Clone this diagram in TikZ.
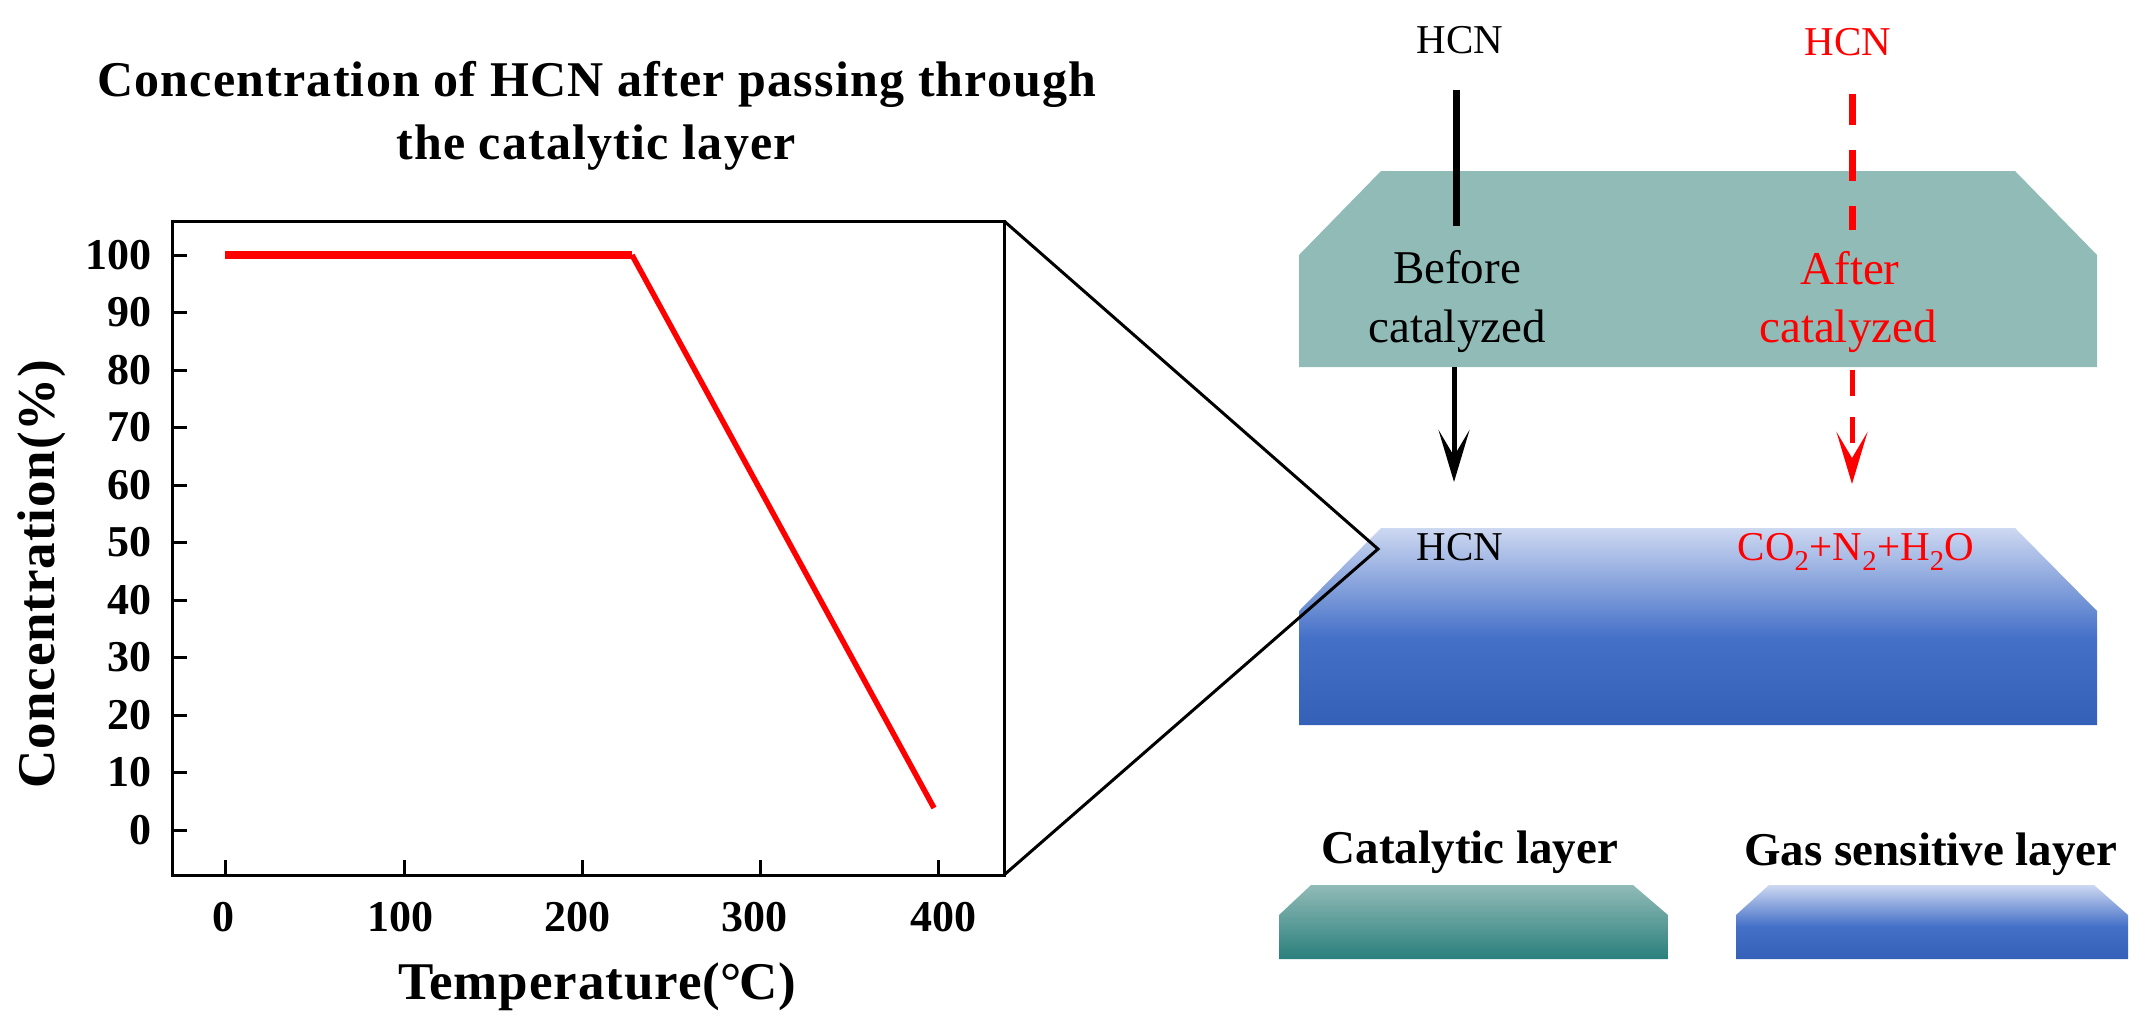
\documentclass[tikz,border=0pt]{standalone}
\usepackage{fontspec}
\setmainfont{Liberation Serif}
\usetikzlibrary{arrows.meta,positioning}
\newcommand{\fsize}[1]{\fontsize{#1}{#1}\selectfont}
\definecolor{plotred}{HTML}{FF0000}
\definecolor{tealtop}{HTML}{91BBB7}
\definecolor{tealbot}{HTML}{2A7F7C}
\definecolor{bluetop}{HTML}{CDD8F1}
\definecolor{bluemid}{HTML}{4470C8}
\definecolor{bluebot}{HTML}{3560B7}
\pgfdeclareverticalshading{blueband}{100bp}{color(0bp)=(bluebot); color(25bp)=(bluebot); color(47bp)=(bluemid); color(75bp)=(bluetop); color(100bp)=(bluetop)}
\pgfdeclareverticalshading{tealband}{100bp}{color(0bp)=(tealbot); color(25bp)=(tealbot); color(75bp)=(tealtop); color(100bp)=(tealtop)}
\tikzset{
  headtext/.style={font=\fsize{50}\bfseries\addfontfeature{LetterSpace=2.4},anchor=base,inner sep=0pt},
  axistext/.style={font=\fsize{53}\bfseries\addfontfeature{LetterSpace=1.7},anchor=base,inner sep=0pt},
  legtext/.style={font=\fsize{47}\bfseries,anchor=base,inner sep=0pt},
  ticktext/.style={font=\fsize{44}\bfseries,inner sep=0pt},
  flowtext/.style={font=\fsize{41},anchor=base,inner sep=0pt},
  bigtext/.style={font=\fsize{47},anchor=base,inner sep=0pt},
  flowtip/.style={arrows={-{Stealth[length=52pt 0 0,width=31pt 0,inset=26pt 0]}}},
}
\begin{document}
\begin{tikzpicture}[x=1pt,y=-1pt]
  \useasboundingbox (0,0) rectangle (2152,1030);
  % layers
  \fill[tealtop] (1299,367) -- (1299,255) -- (1381,171) -- (2015,171) -- (2097,255) -- (2097,367) -- cycle;
  \shade[shading=blueband] (1299,725) -- (1299,611) -- (1381,528) -- (2015,528) -- (2097,611) -- (2097,725) -- cycle;
  \shade[shading=tealband] (1279,959) -- (1279,915) -- (1311,885) -- (1633,885) -- (1668,915) -- (1668,959) -- cycle;
  \shade[shading=blueband] (1736,959) -- (1736,915) -- (1769,885) -- (2094,885) -- (2128,915) -- (2128,959) -- cycle;
  % plot frame
  \coordinate (tl) at (172,221);
  \coordinate (tr) at (1004,221);
  \coordinate (bl) at (172,875);
  \coordinate (br) at (1004,875);
  \coordinate (apex) at (1378,549);
  \draw[line width=3pt] (tl) -- (tr) -- (br) -- (bl) -- cycle;
  \draw[line width=3pt] (tr) -- (apex) -- (br);
  \foreach \val [count=\i from 0] in {0,10,...,100}
    \draw[line width=3pt] (172,830-57.5*\i) -- ++(15,0);
  \foreach \xpos in {225,404,582,760,938}
    \draw[line width=3pt] (\xpos,875) -- ++(0,-15);
  % curve
  \coordinate (flatA) at (225,255);
  \coordinate (flatB) at (632,255);
  \coordinate (curveEnd) at (934,808);
  \draw[plotred,line width=7.5pt] (flatA) -- (flatB);
  \draw[plotred,line width=5.5pt] (flatB) -- (curveEnd);
  % axis numbers
  \begin{scope}[every node/.style={ticktext,anchor=base east}]
    \foreach \val [count=\i from 0] in {0,10,...,100}
      \node (ytick\val) at (152,844-57.5*\i) {\val};
  \end{scope}
  \begin{scope}[every node/.style={ticktext,anchor=base}]
    \node (xtickA) at (223,931) {0};
    \node (xtickB) at (400,931) {100};
    \node (xtickC) at (577,931) {200};
    \node (xtickD) at (754,931) {300};
    \node (xtickE) at (943,931) {400};
  \end{scope}
  \node[headtext] (title) at (597,97) {Concentration of HCN after passing through};
  \node[headtext] (titleB) at (596,160) {the catalytic layer};
  \node[axistext] (xlabel) at (597,999) {Temperature(°\kern-3pt C)};
  \node[axistext,rotate=90] (ylabel) at (54,574) {Concentration(\%)};
  % flow
  \node[flowtext] (hcnin) at (1460,54) {HCN};
  \node[flowtext,plotred] (hcninred) at (1848,56) {HCN};
  \node[bigtext] (before) at (1457,283) {Before};
  \node[bigtext] (beforeB) at (1457,342) {catalyzed};
  \node[bigtext,plotred] (after) at (1850,284) {After};
  \node[bigtext,plotred] (afterB) at (1848,342) {catalyzed};
  \node[flowtext] (hcnout) at (1460,560) {HCN};
  \node[flowtext,plotred] (prod) at (1856,560) {CO\textsubscript{2}+N\textsubscript{2}+H\textsubscript{2}O};
  \coordinate (blackA) at (1456,90);
  \coordinate (blackB) at (1456,226);
  \coordinate (blackC) at (1454,367);
  \coordinate (blackD) at (1454,482);
  \coordinate (redA) at (1852,94);
  \coordinate (redB) at (1852,230);
  \coordinate (redC) at (1852,370);
  \coordinate (redD) at (1852,484);
  \draw[line width=7pt] (blackA) -- (blackB);
  \draw[line width=5pt,flowtip] (blackC) -- (blackD);
  \draw[plotred,line width=7pt,dash pattern=on 31pt off 25pt] (redA) -- (redB);
  \draw[plotred,line width=5pt,dash pattern=on 26pt off 21pt,flowtip] (redC) -- (redD);
  % legend
  \node[legtext] (legcat) at (1470,863) {Catalytic layer};
  \node[legtext] (leggas) at (1931,865) {Gas sensitive layer};
\end{tikzpicture}
\end{document}
